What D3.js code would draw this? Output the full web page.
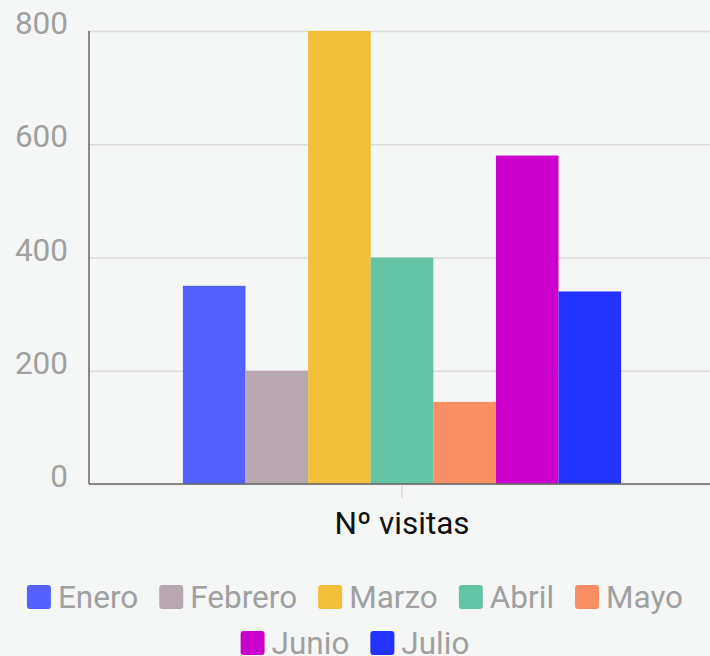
<!DOCTYPE html>
<html>
<head>
<meta charset="utf-8">
<script src="https://cdn.jsdelivr.net/npm/d3@7"></script>
<style>
  html, body { margin: 0; padding: 0; background: #f5f7f6; }
  svg { display: block; font-family: Roboto, "Noto Sans", sans-serif; }
</style>
</head>
<body>
<svg id="chart" width="710" height="656"></svg>
<script>
const categories = ["Nº visitas"];
const months = ["Enero", "Febrero", "Marzo", "Abril", "Mayo", "Junio", "Julio"];
const visits = [350, 200, 800, 400, 145, 580, 340];
const colors = ["#5461ff", "#b7a7b0", "#f1bf38", "#65c4a6", "#f98e65", "#cc00cc", "#2232ff"];
const yTicks = [0, 200, 400, 600, 800];

const svg = d3.select("#chart");
const W = 710, H = 656;
const margin = { left: 89, top: 31, right: -5, bottom: 172 };
const plotW = W - margin.left - margin.right;
const plotH = H - margin.top - margin.bottom;

svg.append("rect").attr("width", W).attr("height", H).attr("fill", "#f5f7f6");

const y = d3.scaleLinear().domain([0, 800]).range([margin.top + plotH, margin.top]);
const x0 = d3.scaleBand().domain(categories).range([margin.left, margin.left + plotW]);
const groupFrac = 0.70;
const gw = x0.bandwidth() * groupFrac;
const x1 = d3.scaleBand().domain(months)
  .range([(x0.bandwidth() - gw) / 2, (x0.bandwidth() + gw) / 2]);

// grid lines
const grid = svg.append("g")
  .attr("transform", `translate(${margin.left},0)`)
  .call(d3.axisLeft(y).tickValues(yTicks).tickSize(-plotW).tickFormat(""));
grid.select(".domain").remove();
grid.selectAll(".tick line").attr("stroke", "#dcdcdc").attr("stroke-width", 1.5);

// y labels
const yAxis = svg.append("g")
  .attr("transform", `translate(${margin.left},0)`)
  .call(d3.axisLeft(y).tickValues(yTicks).tickSize(0).tickPadding(21));
yAxis.select(".domain").remove();
yAxis.selectAll(".tick text")
  .attr("fill", "#a0a0a0")
  .attr("font-size", 31.5)
  .attr("font-family", "Roboto")
  .attr("dy", "0.08em");

// bars
const g = svg.append("g");
categories.forEach((c, ci) => {
  g.selectAll(null).data(months).enter().append("rect")
    .attr("x", m => x0(c) + x1(m))
    .attr("width", x1.bandwidth())
    .attr("y", (m, i) => y(visits[i]))
    .attr("height", (m, i) => y(0) - y(visits[i]))
    .attr("fill", (m, i) => colors[i]);
});

// x axis
const xAxis = svg.append("g")
  .attr("transform", `translate(0,${y(0)})`)
  .call(d3.axisBottom(x0).tickSize(14).tickPadding(14));
xAxis.select(".domain").remove();
xAxis.selectAll(".tick line").attr("stroke", "#dcdcdc").attr("stroke-width", 1.5);
xAxis.selectAll(".tick text")
  .attr("fill", "#111")
  .attr("font-size", 31.5)
  .attr("font-family", "Roboto");

// axis lines
svg.append("line")
  .attr("x1", margin.left).attr("x2", margin.left + plotW)
  .attr("y1", y(0)).attr("y2", y(0))
  .attr("stroke", "#666").attr("stroke-width", 1.5);
svg.append("line")
  .attr("x1", margin.left).attr("x2", margin.left)
  .attr("y1", y(800)).attr("y2", y(0))
  .attr("stroke", "#666").attr("stroke-width", 1.5);

// legend
const legendFont = 31.5;
const boxW = 24, boxH = 24, boxGap = 7, itemGap = 21;
const rowYs = [597, 643];
const legend = svg.append("g");
const items = months.map((m, i) => {
  const it = legend.append("g");
  it.append("rect").attr("width", boxW).attr("height", boxH).attr("rx", 3)
    .attr("y", -boxH / 2).attr("fill", colors[i]);
  const t = it.append("text").text(m)
    .attr("x", boxW + boxGap).attr("dy", "0.35em")
    .attr("fill", "#a0a0a0").attr("font-size", legendFont).attr("font-family", "Roboto");
  const w = boxW + boxGap + t.node().getComputedTextLength();
  return { it, w };
});
const maxRow = W - 20;
const rows = [[]];
let cur = 0;
items.forEach(d => {
  const add = (rows[rows.length - 1].length ? itemGap : 0) + d.w;
  if (cur + add > maxRow && rows[rows.length - 1].length) {
    rows.push([d]); cur = d.w;
  } else { rows[rows.length - 1].push(d); cur += add; }
});
rows.forEach((row, ri) => {
  const total = d3.sum(row, d => d.w) + itemGap * (row.length - 1);
  let xx = (W - total) / 2;
  row.forEach(d => {
    d.it.attr("transform", `translate(${xx},${rowYs[ri]})`);
    xx += d.w + itemGap;
  });
});
</script>
</body>
</html>
